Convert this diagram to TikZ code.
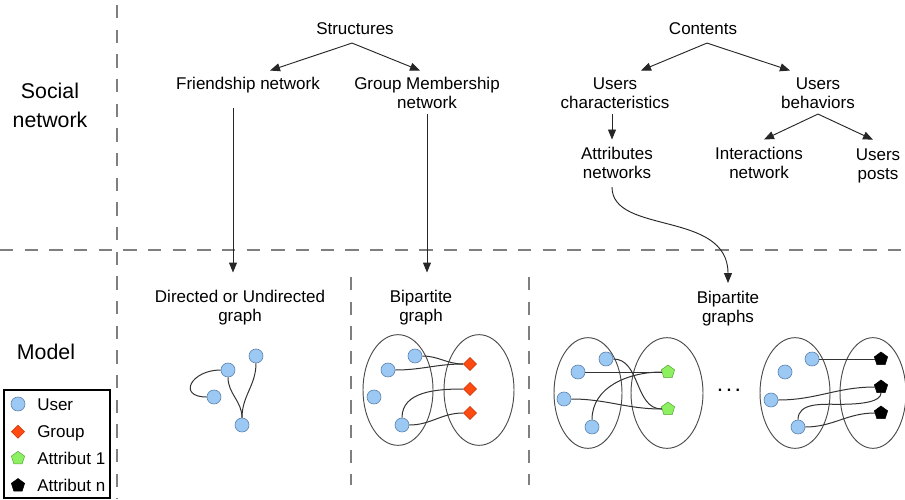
\documentclass[tikz,border=0pt]{standalone}
\usepackage{fontspec}
\setmainfont{Liberation Sans}
\usetikzlibrary{arrows.meta,shapes.geometric,calc}
\definecolor{userfill}{HTML}{9CC9F4}
\definecolor{userdraw}{HTML}{5E86B0}
\definecolor{grpfill}{HTML}{FF4A12}
\definecolor{grpdraw}{HTML}{C8360A}
\definecolor{attfill}{HTML}{8CF060}
\definecolor{attdraw}{HTML}{5EA83E}
\definecolor{sepgray}{HTML}{7F7F7F}
\begin{document}
\begin{tikzpicture}[x=0.75pt,y=-0.75pt,
  lbl/.style={font=\fontsize{12.75}{14.25}\selectfont, align=center, inner sep=0pt},
  biglbl/.style={font=\fontsize{16}{21.75}\selectfont, align=center, inner sep=0pt},
  arr/.style={-{Triangle[length=7.5pt,width=6pt]}, line width=0.7pt, draw=black!85},
  sepline/.style={draw=sepgray, line width=1.2pt, dash pattern=on 10pt off 8.5pt},
  user/.style={circle, fill=userfill, draw=userdraw, line width=0.5pt, minimum size=10.5pt, inner sep=0pt},
  grp/.style={diamond, fill=grpfill, draw=grpdraw, line width=0.4pt, minimum width=10pt, minimum height=10pt, inner sep=0pt},
  att/.style={regular polygon, regular polygon sides=5, fill=attfill, draw=attdraw, line width=0.4pt, minimum size=10.5pt, inner sep=0pt},
  attn/.style={regular polygon, regular polygon sides=5, fill=black, draw=black, line width=0.4pt, minimum size=10.5pt, inner sep=0pt},
  part/.style={ellipse, draw=black!70, line width=0.7pt, inner sep=0pt, minimum height=83pt},
  edge/.style={draw=black!80, line width=0.75pt},
  legendbox/.style={draw=black, line width=1.5pt, minimum width=79.5pt, minimum height=81pt, inner sep=0pt}
]
\useasboundingbox (0,0) rectangle (905,499);

% separators
\draw[sepline] (117,5) -- (117,499);
\draw[sepline] (0,250) -- (905,250);
\draw[sepline] (351,277) -- (351,485);
\draw[sepline] (529,277) -- (529,485);

% row labels
\node[biglbl] (social) at (50,107.3) {\strut Social\\network\strut};
\node[biglbl] (model) at (46,353.8) {\strut Model};

% top texts
\node[lbl] (struct) at (355,30.3) {\strut Structures};
\node[lbl] (friend) at (248,85.3) {\strut Friendship network};
\node[lbl] (group) at (427,94.8) {\strut Group Membership\\network\strut};
\node[lbl] (contents) at (703,30.3) {\strut Contents};
\node[lbl] (uchar) at (615,94.8) {\strut Users\\characteristics\strut};
\node[lbl] (ubeh) at (818,94.8) {\strut Users\\behaviors\strut};
\node[lbl] (attrnet) at (617,164.8) {\strut Attributes\\networks\strut};
\node[lbl] (inter) at (759,164.8) {\strut Interactions\\network\strut};
\node[lbl] (posts) at (878,166) {\strut Users\\posts\strut};

% model texts
\node[lbl] (directed) at (240,307.8) {\strut Directed or Undirected\\graph\strut};
\node[lbl] (bip1) at (421,307.8) {\strut Bipartite\\graph\strut};
\node[lbl] (bip2) at (728,309.3) {\strut Bipartite\\graphs\strut};

% arrows
\draw[arr] ($(struct.south)+(-3,3)$) -- ($(friend.north)+(22,-5)$);
\draw[arr] ($(struct.south)+(-3,3)$) -- ($(group.north)+(-7,-5)$);
\draw[arr] ($(contents.south)+(4,3)$) -- ($(uchar.north)+(26,-5)$);
\draw[arr] ($(contents.south)+(4,3)$) -- ($(ubeh.north)+(-28,-5)$);
\draw[arr] ($(uchar.south)+(-3,0)$) -- ($(attrnet.north)+(-5,-6)$);
\draw[arr] (ubeh.south) -- ($(inter.north)+(5,-6)$);
\draw[arr] (ubeh.south) -- ($(posts.north)+(-5,-7)$);
\draw[arr] ($(friend.south)+(-15,13)$) -- ($(directed.north)+(-7,-16)$);
\draw[arr] (group.south) -- ($(bip1.north)+(6,-16)$);
\draw[arr] ($(attrnet.south)+(-5,3)$) .. controls +(0,48) and +(0,-73) .. ($(bip2.north)+(0,-7)$);

% graph 1
\node[user] (g1a) at (228,370) {};
\node[user] (g1b) at (256,356) {};
\node[user] (g1c) at (214,397) {};
\node[user] (g1d) at (242,425) {};
\draw[edge] (g1a) to[out=180,in=180,looseness=2.5] (g1c);
\draw[edge] (g1a) to[out=-90,in=90] (g1d);
\draw[edge] (g1b) to[out=-90,in=90] (g1d);

% bipartite graph
\node[part, minimum width=52.5pt] (bl) at (398,390) {};
\node[part, minimum width=52.5pt] (br) at (479,390) {};
\node[user] (bu1) at (415,356) {};
\node[user] (bu2) at (388,370) {};
\node[user] (bu3) at (374,397) {};
\node[user] (bu4) at (402,425) {};
\node[grp] (bd1) at (470,364) {};
\node[grp] (bd2) at (470,389) {};
\node[grp] (bd3) at (470,413) {};
\draw[edge] (bu1) to[out=0,in=180] (bd1);
\draw[edge] (bu2) to[out=0,in=180] (bd1);
\draw[edge] (bu4) to[out=90,in=180] (bd2);
\draw[edge] (bu4) to[out=0,in=180] (bd3);

% attribute graph 1
\node[part, minimum width=51pt] (a1l) at (588,393) {};
\node[part, minimum width=54pt] (a1r) at (667,393) {};
\node[user] (a1u1) at (606,359) {};
\node[user] (a1u2) at (578,372) {};
\node[user] (a1u3) at (564,399) {};
\node[user] (a1u4) at (592,427) {};
\node[att] (a1p1) at (668,372) {};
\node[att] (a1p2) at (668,409) {};
\draw[edge] (a1u2) -- (a1p1);
\draw[edge] (a1u1) to[out=0,in=180] (a1p2);
\draw[edge] (a1u3) to[out=0,in=180] (a1p2);
\draw[edge] (a1u4) to[out=90,in=180] (a1p1);

% dots
\node[inner sep=0pt, anchor=base, font=\fontsize{12}{14}\selectfont\bfseries] (dots) at (729,391) {.\ .\ .};

% attribute graph n
\node[part, minimum width=52.5pt] (anl) at (795,393) {};
\node[part, minimum width=49.5pt] (anr) at (873,393) {};
\node[user] (anu1) at (812,359) {};
\node[user] (anu2) at (785,372) {};
\node[user] (anu3) at (771,400) {};
\node[user] (anu4) at (798,427) {};
\node[attn] (anp1) at (881,359) {};
\node[attn] (anp2) at (881,387) {};
\node[attn] (anp3) at (881,413) {};
\draw[edge] (anu1) -- (anp1);
\draw[edge] (anu3) to[out=0,in=180] (anp2);
\draw[edge] (anu4.north) to[out=90,in=180] ($(anu4.north)!0.5!(anp2.south)+(0,-2)$)
  .. controls +(22,0) and +(0,9) .. (anp2.south);
\draw[edge] (anu4) to[out=0,in=180] (anp3);

% legend
\node[legendbox] (legend) at (57,444) {};
\node[user] (lu) at (18,404) {};
\node[grp] (lg) at (18,431.7) {};
\node[att] (la1) at (18,458.3) {};
\node[attn] (lan) at (18,485.5) {};
\node[lbl, anchor=west] (lut) at (37,406.8) {\strut User};
\node[lbl, anchor=west] (lgt) at (37,434) {\strut Group};
\node[lbl, anchor=west] (la1t) at (37,460.6) {\strut Attribut 1};
\node[lbl, anchor=west] (lant) at (37,487.8) {\strut Attribut n};
\end{tikzpicture}
\end{document}
